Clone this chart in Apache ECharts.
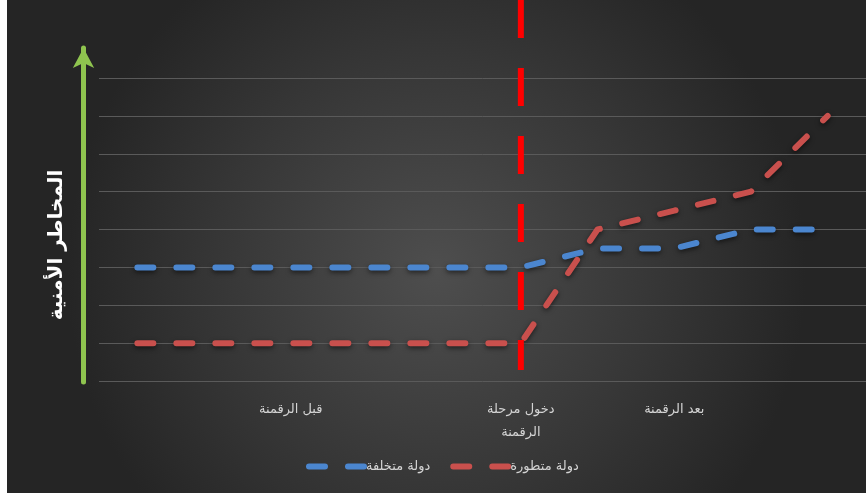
<!DOCTYPE html>
<html>
<head>
<meta charset="utf-8">
<script src="https://cdn.jsdelivr.net/npm/echarts@6/dist/echarts.min.js"></script>
<style>
  html, body { margin: 0; padding: 0; background: #ffffff; width: 866px; height: 495px; overflow: hidden; }
  #chart { position: absolute; left: 7px; top: 0; width: 859px; height: 493px; }
</style>
</head>
<body>
<div id="chart"></div>
<script>
// ---- data ----
const categories = ['', '', 'قبل الرقمنة', '', '', 'دخول مرحلة\nالرقمنة', '', 'بعد الرقمنة', '', ''];
const seriesNames = ['دولة متخلفة', 'دولة متطورة'];
const developingValues = [3, 3, 3, 3, 3, 3, 3.5, 3.5, 4, 4];
const developedValues = [1, 1, 1, 1, 1, 1, 4, 4.5, 5, 7];
const dividerCategory = 5;          // "دخول مرحلة الرقمنة"
const dividerSpan = [1, 0];         // top to bottom on the divider's own hidden axis
const yTitle = 'المخاطر الأمنية';

const chart = echarts.init(document.getElementById('chart'), null, { renderer: 'canvas' });

const FONT = "'DejaVu Sans', 'Noto Sans', sans-serif";
const BLUE = '#4b86cf';
const RED = '#c9504d';

const lineCommon = {
  type: 'line',
  symbol: 'none',
  showSymbol: false,
  smooth: false,
  xAxisIndex: 0,
  yAxisIndex: 0,
  z: 3
};

chart.setOption({
  animation: false,
  backgroundColor: {
    type: 'radial', x: 0.5, y: 0.55, r: 0.75,
    colorStops: [
      { offset: 0, color: '#4e4e4e' },
      { offset: 0.6, color: '#363636' },
      { offset: 1, color: '#252525' }
    ]
  },
  grid: [
    { left: 92, top: 78, width: 770, height: 303 },
    { left: 92, top: 0, width: 770, height: 370 },
    { left: 76.5, top: 48, width: 10, height: 334 }
  ],
  xAxis: [
    {
      gridIndex: 0, type: 'category', data: categories, boundaryGap: true,
      axisLine: { show: false }, axisTick: { show: false },
      axisLabel: {
        interval: 0, color: '#d4d4d4', fontSize: 13, fontFamily: FONT,
        lineHeight: 23, margin: 17, align: 'center'
      },
      splitLine: { show: false }
    },
    {
      gridIndex: 1, type: 'category', data: categories, boundaryGap: true, show: false
    },
    {
      gridIndex: 2, type: 'value', show: false, min: 0, max: 1
    }
  ],
  yAxis: [
    {
      gridIndex: 0, type: 'value', min: 0, max: 8, interval: 1,
      axisLine: { show: false }, axisTick: { show: false }, axisLabel: { show: false },
      splitLine: { show: true, lineStyle: { color: '#5a5a5a', width: 1 } }
    },
    {
      gridIndex: 1, type: 'value', min: 0, max: 1, show: false
    },
    {
      gridIndex: 2, type: 'value', min: 0, max: 1, position: 'left', offset: 0,
      axisLine: {
        show: true, symbol: ['none', 'arrow'], symbolSize: [16, 20],
        lineStyle: { color: '#8fc44f', width: 5 }
      },
      axisTick: { show: false }, axisLabel: { show: false }, splitLine: { show: false }
    }
  ],
  legend: {
    data: seriesNames,
    left: 294, top: 455,
    itemWidth: 55, itemHeight: 14, itemGap: 20,
    itemStyle: { opacity: 0 },
    textStyle: { color: '#d4d4d4', fontSize: 13, fontFamily: FONT, padding: [0, 0, 0, -3] },
    lineStyle: { width: 6, cap: 'round', opacity: 1 }
  },
  graphic: [
    {
      type: 'text',
      x: 50, y: 245,
      rotation: Math.PI / 2,
      style: {
        text: yTitle,
        fill: '#ffffff',
        font: "bold 20px 'DejaVu Sans', sans-serif",
        align: 'center',
        verticalAlign: 'middle'
      }
    }
  ],
  series: [
    Object.assign({}, lineCommon, {
      name: seriesNames[0],
      data: developingValues,
      color: BLUE,
      lineStyle: {
        color: BLUE, width: 6, type: [16, 23], cap: 'round', join: 'round',
        shadowColor: 'rgba(0,0,0,0.55)', shadowBlur: 5, shadowOffsetY: 2
      }
    }),
    Object.assign({}, lineCommon, {
      name: seriesNames[1],
      data: developedValues,
      color: RED,
      lineStyle: {
        color: RED, width: 6, type: [16, 23], cap: 'round', join: 'round',
        shadowColor: 'rgba(0,0,0,0.55)', shadowBlur: 5, shadowOffsetY: 2
      }
    }),
    {
      type: 'line',
      name: 'divider',
      xAxisIndex: 1, yAxisIndex: 1,
      symbol: 'none',
      data: dividerSpan.map(v => [dividerCategory, v]),
      lineStyle: { color: '#ff0000', width: 6, type: [38, 30], cap: 'butt' },
      z: 5,
      silent: true
    }
  ]
});
</script>
</body>
</html>
